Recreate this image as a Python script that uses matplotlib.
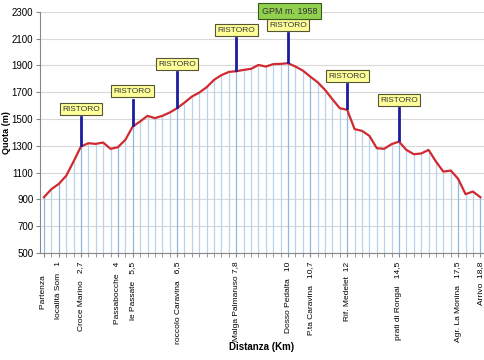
import matplotlib.pyplot as plt
import numpy as np

# elevation profile, one value per point (category axis)
quota = [917, 977, 1016, 1076, 1183, 1295, 1320, 1315, 1325, 1278,
         1290, 1345, 1444, 1482, 1524, 1507, 1524, 1549, 1581, 1623,
         1668, 1698, 1738, 1793, 1828, 1852, 1857, 1867, 1875, 1904,
         1892, 1910, 1912, 1917, 1892, 1862, 1817, 1775, 1718, 1648,
         1581, 1569, 1425, 1412, 1375, 1283, 1278, 1313, 1332, 1270,
         1238, 1243, 1270, 1183, 1108, 1116, 1054, 940, 959, 917]

label_idx = [0, 2, 5, 10, 12, 18, 26, 33, 36, 41, 48, 56, 59]
label_txt = ["Partenza      ", "località Som   1", "Croce Marino   2,7",
             "Passabocche   4", "le Passate   5,5", "roccolo Caravina   6,5",
             "Malga Palmaruso 7,8", "Dosso Pedalta   10", "P.ta Caravina   10,7",
             "Rif. Medelet  12", "prati di Rongai   14,5", "Agr. La Monina   17,5",
             "Arrivo  18,8"]

ristoro_idx = [5, 12, 18, 26, 33, 41, 48]
ristoro_len = [205, 190, 255, 235, 210, 180, 235]
gpm_text = "GPM m. 1958"

plt.rcParams['font.family'] = ['Liberation Sans Narrow', 'Liberation Sans', 'DejaVu Sans']

x = np.arange(len(quota))
fig = plt.figure(figsize=(4.85, 3.6), dpi=100)
ax = fig.add_axes([0.083, 0.297, 0.915, 0.67])

# drop lines
for i, q in zip(x, quota):
    col = '#8fb8e0' if i in label_idx else '#b9d3ee'
    ax.plot([i, i], [500, q], color=col, lw=0.9, zorder=1)

ax.plot(x, quota, color='#d02a30', lw=1.6, zorder=3)

# ristoro markers
for i, ln in zip(ristoro_idx, ristoro_len):
    base = quota[i] + 12
    ax.plot([i, i], [base, base + ln], color='#1c1ca0', lw=2, zorder=4)
    ax.text(i, base + ln + 60, "RISTORO", ha='center', va='center', fontsize=6,
            color='#333333', zorder=5,
            bbox=dict(boxstyle='square,pad=0.3', fc='#ffff99', ec='#555533', lw=0.8))

top_i = ristoro_idx[4]
ax.text(top_i + 0.2, quota[top_i] + 12 + ristoro_len[4] + 165, gpm_text, ha='center',
        va='center', fontsize=6.5, color='#333333', zorder=5,
        bbox=dict(boxstyle='square,pad=0.4', fc='#92d050', ec='#3a5a1a', lw=0.8))

ax.set_xlim(-0.5, len(quota) - 0.5)
ax.set_ylim(500, 2300)
ax.set_yticks(range(500, 2301, 200))
ax.tick_params(axis='y', labelsize=7, length=3, color='#888888', pad=2)
ax.grid(axis='y', color='#d9d9d9', lw=0.8, zorder=0)
ax.set_axisbelow(True)

ax.set_xticks(label_idx)
ax.set_xticklabels(label_txt, rotation=90, fontsize=6, va='top')
ax.set_xticks(x, minor=True)
ax.tick_params(axis='x', which='both', length=3, color='#888888', pad=3)

for s in ['top', 'right']:
    ax.spines[s].set_visible(False)
for s in ['left', 'bottom']:
    ax.spines[s].set_color('#888888')

ax.set_ylabel("Quota (m)", fontsize=6.5, fontweight='bold')
ax.yaxis.set_label_coords(-0.066, 0.5)
fig.text(0.54, 0.036, "Distanza (Km)", ha='center', va='center', fontsize=7, fontweight='bold')

fig.savefig("out.png", dpi=100)
